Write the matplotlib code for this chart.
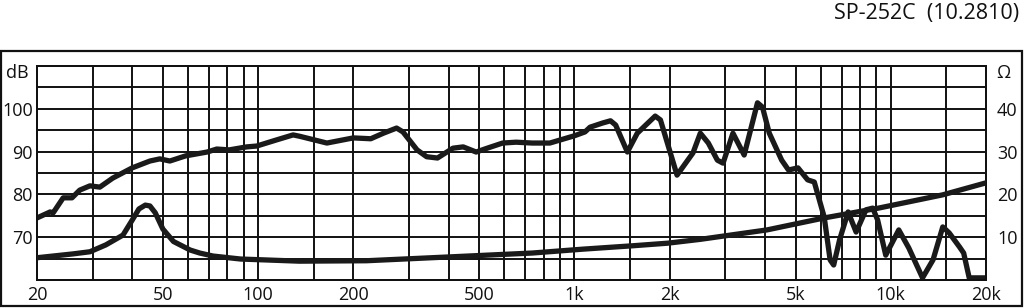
import matplotlib.pyplot as plt
from matplotlib.patches import Rectangle

# ----------------------------------------------------
# Data
# ----------------------------------------------------
spl_freq = [20, 22, 22.5, 24.2, 25.8, 27.3, 29.4, 31.6, 34.7, 40, 45.5, 48.9,
            52.6, 59, 69, 74, 81, 92, 99, 114, 129, 135, 165, 200, 227, 249,
            274, 287, 318, 341, 369, 413, 445, 489, 530, 593, 654, 735, 836,
            900, 1000, 1080, 1120, 1230, 1300, 1350, 1470, 1580, 1800, 1870,
            2110, 2370, 2500, 2650, 2830, 2950, 3170, 3440, 3790, 3930, 4130,
            4520, 4750, 5090, 5460, 5730, 6160, 6430, 6600, 6890, 7330, 7770,
            8350, 8770, 9090, 9640, 10600, 11400, 12600, 13600, 14600, 15300,
            16500, 17000, 17700, 20000]
spl_db = [74.5, 75.9, 75.7, 79.2, 79.2, 81.0, 82.0, 81.7, 83.8, 86.2, 87.8,
          88.3, 87.8, 89.0, 89.9, 90.6, 90.4, 91.1, 91.3, 92.7, 93.9, 93.6,
          92.0, 93.2, 93.0, 94.3, 95.5, 94.6, 90.4, 88.8, 88.5, 90.8, 91.1,
          89.9, 90.8, 92.0, 92.2, 92.0, 92.0, 92.7, 93.7, 94.6, 95.7, 96.7,
          97.2, 96.2, 89.9, 94.3, 98.3, 97.4, 84.5, 89.7, 94.3, 92.0, 88.0,
          87.3, 94.3, 89.2, 101.4, 100.4, 94.3, 88.0, 85.7, 86.2, 83.4, 82.9,
          74.7, 64.7, 63.5, 69.4, 75.9, 71.2, 76.4, 76.8, 74.0, 65.8, 71.7,
          67.5, 60.5, 64.7, 72.4, 71.0, 67.7, 66.3, 60.5, 60.5]

imp_freq = [20, 26, 29.4, 33, 37.4, 40, 42, 44, 45.5, 47.3, 50, 54, 61, 65.4,
            72, 88, 135, 220, 404, 735, 1060, 1530, 1970, 2500, 4060, 6160,
            9150, 14600, 20000]
imp_ohm = [5.2, 6.1, 6.6, 8.2, 10.5, 14.0, 16.6, 17.5, 17.3, 15.7, 11.9, 9.0,
           7.0, 6.3, 5.6, 4.9, 4.4, 4.5, 5.4, 6.3, 7.2, 8.0, 8.6, 9.5, 11.7,
           14.5, 16.8, 19.9, 22.7]

grid_freqs = [20, 30, 40, 50, 60, 70, 80, 90, 100, 150, 200, 300, 400, 500,
              600, 700, 800, 900, 1000, 1500, 2000, 3000, 4000, 5000, 6000,
              7000, 8000, 9000, 10000, 15000, 20000]
x_ticks = [20, 50, 100, 200, 500, 1000, 2000, 5000, 10000, 20000]
x_labels = ["20", "50", "100", "200", "500", "1k", "2k", "5k", "10k", "20k"]
db_ticks = [70, 80, 90, 100]
ohm_ticks = [10, 20, 30, 40]

plt.rcParams['font.family'] = ['Open Sans', 'DejaVu Sans']

fig = plt.figure(figsize=(10.24, 3.08), dpi=100)

# outer frame
fig.patches.append(Rectangle((1 / 1024, 2 / 308), 1021 / 1024, 255 / 308,
                             transform=fig.transFigure, fill=False,
                             edgecolor="#111111", linewidth=1.6))

ax = fig.add_axes([37 / 1024, 28 / 308, 949 / 1024, 214 / 308])
ax.set_xscale("log")
ax.set_xlim(20, 20000)
ax.set_ylim(60, 110)

for f in grid_freqs:
    ax.axvline(f, color="#111111", linewidth=1.4, zorder=1)
for y in range(60, 111, 5):
    ax.axhline(y, color="#111111", linewidth=1.4, zorder=1)

ax.plot(spl_freq, spl_db, color="#1a1a1a", linewidth=3.8,
        solid_joinstyle="round", solid_capstyle="round", zorder=3)

ax2 = ax.twinx()
ax2.set_ylim(0, 50)
ax2.plot(imp_freq, imp_ohm, color="#1a1a1a", linewidth=3.8,
         solid_joinstyle="round", solid_capstyle="round", zorder=3)

for a in (ax, ax2):
    for s in a.spines.values():
        s.set_linewidth(1.4)
        s.set_color("#111111")
    a.tick_params(length=0, labelsize=13, colors="#111111")

ax.set_xticks(x_ticks)
ax.set_xticklabels(x_labels)
ax.xaxis.set_minor_locator(plt.NullLocator())
ax.tick_params(axis="x", pad=4)
ax.set_yticks(db_ticks)
ax.tick_params(axis="y", pad=3)
ax2.set_yticks(ohm_ticks)
ax2.tick_params(axis="y", pad=8)

ax.text(-0.009, 108.3, "dB", transform=ax.get_yaxis_transform(),
        ha="right", va="center", fontsize=13, color="#111111")
ax2.text(1.011, 48.3, "Ω", transform=ax2.get_yaxis_transform(),
         ha="left", va="center", fontsize=13, color="#111111")

fig.text(1019 / 1024, 1 - 13 / 308, "SP-252C  (10.2810)", ha="right",
         va="center", fontsize=15.5, color="#111111")

fig.savefig("out.png", dpi=100)
